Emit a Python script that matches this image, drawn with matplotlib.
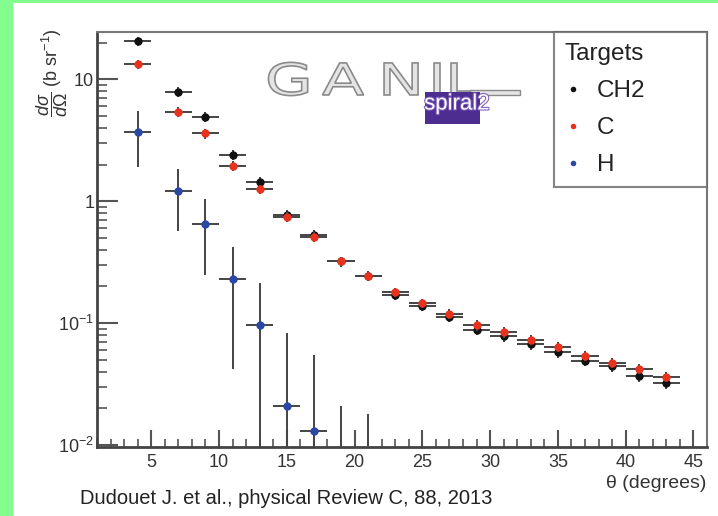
import matplotlib
matplotlib.use("Agg")
import matplotlib.pyplot as plt
from matplotlib.lines import Line2D
from matplotlib.patches import Rectangle, PathPatch
from matplotlib.textpath import TextPath
from matplotlib.transforms import Affine2D
from matplotlib.ticker import MultipleLocator, LogLocator, NullFormatter
import matplotlib.patheffects as pe

plt.rcParams['font.family'] = ['Liberation Sans', 'DejaVu Sans']
plt.rcParams['mathtext.fontset'] = 'custom'
plt.rcParams['mathtext.rm'] = 'Liberation Sans'
plt.rcParams['mathtext.it'] = 'Liberation Sans:italic'

# angular distributions, theta in degrees, dsigma/dOmega in b/sr
theta = [4, 7, 9, 11, 13, 15, 17, 19, 21, 23, 25, 27, 29, 31, 33, 35, 37, 39, 41, 43]
ch2 = [20.6, 7.9, 4.9, 2.4, 1.45, 0.77, 0.53, 0.32, 0.245, 0.17, 0.139, 0.112,
       0.088, 0.078, 0.067, 0.058, 0.049, 0.044, 0.037, 0.032]
ch2_err = [1.9, 0.7, 0.45, 0.22, 0.13, 0.07, 0.05, 0.03, 0.022, 0.016, 0.013, 0.01,
           0.009, 0.008, 0.007, 0.006, 0.005, 0.0045, 0.004, 0.0035]
c = [13.3, 5.4, 3.6, 1.95, 1.25, 0.74, 0.51, 0.32, 0.245, 0.179, 0.145, 0.119,
     0.096, 0.084, 0.073, 0.064, 0.054, 0.047, 0.042, 0.036]
c_err = [1.2, 0.5, 0.33, 0.18, 0.11, 0.07, 0.05, 0.03, 0.022, 0.016, 0.013, 0.011,
         0.01, 0.008, 0.007, 0.006, 0.005, 0.0045, 0.004, 0.0035]
theta_h = [4, 7, 9, 11, 13, 15, 17, 19, 21]
h = [3.7, 1.21, 0.65, 0.232, 0.096, 0.021, 0.0129, 0.003, 0.002]
h_err = [1.8, 0.64, 0.40, 0.19, 0.118, 0.062, 0.042, 0.018, 0.016]
theta_bin = 1.0

W, H = 718, 516
fig = plt.figure(figsize=(W / 100, H / 100), dpi=100)
fig.patch.set_facecolor('#84fd8f')
fig.patches.append(Rectangle((13 / W, 0), 1, 1 - 3 / H, transform=fig.transFigure,
                             facecolor='white', edgecolor='none', zorder=-10))

ax = fig.add_axes([97 / W, 69 / H, 610 / W, 415 / H])
ax.set_yscale('log', nonpositive='clip')
ax.set_xlim(1, 46)
ax.set_ylim(0.0096, 24.5)

ekw = dict(fmt='o', ms=6, ecolor='#444444', elinewidth=1.4, capsize=0, mec='none')
ax.errorbar(theta, ch2, yerr=ch2_err, xerr=theta_bin, color='#111111', zorder=3, **ekw)
ax.errorbar(theta, c, yerr=c_err, xerr=theta_bin, color='#e8321e', zorder=4, **ekw)
ax.errorbar(theta_h, h, yerr=h_err, xerr=theta_bin, color='#2a47a3', zorder=5, **ekw)

for side in ['top', 'right']:
    ax.spines[side].set_color('#777777')
    ax.spines[side].set_linewidth(1.5)
for side in ['left', 'bottom']:
    ax.spines[side].set_color('#444444')
    ax.spines[side].set_linewidth(2)

ax.set_yticks([0.01, 0.1, 1, 10])
ax.set_yticklabels(['10$^{-2}$', '10$^{-1}$', '1', '10'])
ax.yaxis.set_minor_locator(LogLocator(base=10, subs=range(2, 10)))
ax.yaxis.set_minor_formatter(NullFormatter())
ax.xaxis.set_minor_locator(MultipleLocator(1))
ax.set_xticks([5, 10, 15, 20, 25, 30, 35, 40, 45])
ax.tick_params(which='both', direction='in', top=False, right=False,
               color='#555555', labelsize=13, labelcolor='#333333')
ax.tick_params(axis='y', which='major', length=15, width=1.5, pad=2)
ax.tick_params(axis='y', which='minor', length=7, width=1.2)
ax.tick_params(axis='x', which='major', length=12, width=1.5, pad=5)
ax.tick_params(axis='x', which='minor', length=6, width=1.2)

handles = [Line2D([], [], ls='none', marker='o', ms=4, color=col, mec='none')
           for col in ['#111111', '#e8321e', '#2a47a3']]
leg = ax.legend(handles, ['CH2', 'C', 'H'], title='Targets', loc='upper right',
                bbox_to_anchor=(457 / 610, 0, 153 / 610, 1), mode='expand',
                borderaxespad=0, fancybox=False,
                edgecolor='#666666', fontsize=17.5, title_fontsize=17.5,
                labelspacing=0.62, handlelength=0.7, handletextpad=0.6,
                borderpad=0.45, alignment='left')
leg.get_frame().set_linewidth(1.5)
for t in leg.get_texts() + [leg.get_title()]:
    t.set_color('#222222')

fig.text(52 / W, 1 - 73 / H, r'$\dfrac{d\sigma}{d\Omega}$ (b sr$^{-1}$)', rotation=90,
         ha='center', va='center', fontsize=13, color='#333333')
fig.text(706 / W, 1 - 484 / H, r'θ (degrees)', ha='right', va='center',
         fontsize=14, color='#333333')
fig.text(80 / W, 1 - 498 / H, 'Dudouet J. et al., physical Review C, 88, 2013',
         ha='left', va='center', fontsize=14.5, color='#222222')

# GANIL / spiral2 logo, letters drawn as wide outlined paths (pixel coordinates)
for letter, xl in zip('GANIL', [265, 322, 378, 428, 445]):
    tp = TextPath((0, 0), letter, size=44, prop={'family': 'DejaVu Sans'})
    tr = Affine2D().scale(1.4, 1.0).translate(xl, H - 95)
    fig.patches.append(PathPatch(tr.transform_path(tp), transform=None,
                                 facecolor='#e4e4e4', edgecolor='#8a8a8a',
                                 lw=1.2, zorder=4))
fig.patches.append(Rectangle((470 / W, 1 - 95 / H), 50 / W, 5 / H,
                             transform=fig.transFigure, facecolor='#e4e4e4',
                             edgecolor='#8a8a8a', lw=1, zorder=4))
fig.patches.append(Rectangle((425 / W, 1 - 124 / H), 55 / W, 32 / H,
                             transform=fig.transFigure, facecolor='#4e2d91',
                             edgecolor='none', zorder=5))
fig.text(457 / W, 1 - 104 / H, 'spiral2', ha='center', va='center', fontsize=16,
         color='white', zorder=6,
         path_effects=[pe.withStroke(linewidth=1.5, foreground='#7a5cb8')])

fig.savefig('out.png', dpi=100)
